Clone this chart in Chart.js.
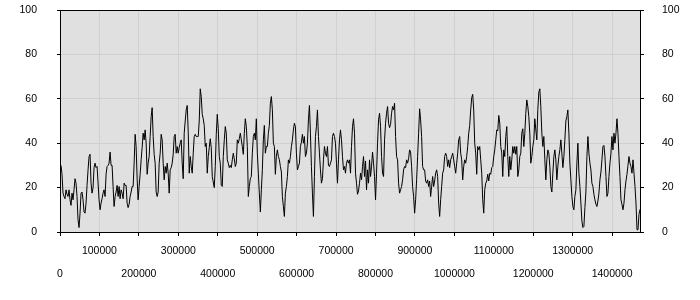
<!DOCTYPE html>
<html>
<head>
<meta charset="utf-8">
<script src="https://cdn.jsdelivr.net/npm/chart.js@4/dist/chart.umd.min.js"></script>
<style>
  html, body { margin: 0; padding: 0; background: #ffffff; }
  #wrap { width: 700px; height: 300px; }
</style>
</head>
<body>
<div id="wrap"><canvas id="seriesChart"></canvas></div>
<script>
// sample spacing along x (one reading per ~2540 units)
const X_STEP = 2540;
const X_MAX = 1473200;
const X_TICKS = [0, 100000, 200000, 300000, 400000, 500000, 600000, 700000,
  800000, 900000, 1000000, 1100000, 1200000, 1300000, 1400000];
const Y_TICKS = [0, 20, 40, 60, 80, 100];

// values, one per sample
const values = [
  30, 30, 26, 17.5, 16, 15, 19, 17, 16, 19,
  14.5, 12, 17.5, 14.5, 19, 24, 22, 16, 5.5, 2,
  8.5, 17.5, 18, 14.5, 9, 8.5, 13, 21, 28, 34,
  35, 22, 17.5, 20, 29, 31, 29, 29.5, 22, 14.5,
  10, 13, 15, 17.5, 19, 16, 26, 29.5, 30, 31,
  36, 30, 30, 20.5, 11.5, 16, 18, 21, 16, 20.5,
  15, 19, 17.5, 15, 22, 21, 21, 13, 11, 12.5,
  16, 18, 20.5, 20.5, 31, 44, 38.5, 24, 14.5, 20.5,
  26, 32.5, 38, 44.5, 41.5, 46, 40, 26, 31, 34,
  43, 52, 56, 43, 35, 31, 18, 16, 18, 31,
  35.5, 44, 41.5, 31, 23.5, 29.5, 26.5, 31, 26.5, 17.5,
  28, 29, 31, 35, 43, 44, 35.5, 38.5, 35.5, 38,
  40, 41.5, 31, 24, 44.5, 50, 55, 57, 45, 26.5,
  34, 29.5, 26.5, 35.5, 43, 44, 43, 43, 43, 50,
  64.5, 61, 53, 51, 48, 38.5, 40, 26.5, 34, 38,
  42, 38, 25, 22.5, 20, 29.5, 44, 53, 46.5, 34,
  31, 21, 20.5, 34, 41.5, 47.5, 44.5, 32.5, 31, 29,
  30, 29, 32.5, 35.5, 33, 29.5, 31, 41.5, 40, 42,
  44.5, 41.5, 38.5, 35, 44.5, 51, 47.5, 38.5, 16, 20.5,
  24, 25, 35.5, 43, 44.5, 41.5, 51, 35.5, 26.5, 17.5,
  9, 19, 28, 41.5, 48, 35.5, 38.5, 38.5, 44.5, 48,
  58, 61, 55, 40, 38.5, 26, 34, 37, 34, 32.5,
  29.5, 27, 16, 11.5, 7, 17.5, 20.5, 25, 32.5, 31,
  34, 38.5, 41.5, 46, 49, 47.5, 35.5, 28, 29.5, 31,
  38.5, 40.5, 44, 40, 43, 34, 35.5, 40, 50.5, 57,
  44.5, 29.5, 17.5, 7, 25, 43, 47.5, 55, 43, 35.5,
  28, 22, 24, 32.5, 38.5, 35.5, 34, 38.5, 30, 29.5,
  31, 32.5, 43, 44.5, 43, 40, 31, 22, 32.5, 41.5,
  46, 41.5, 34, 28, 29.5, 26.5, 31, 32.5, 31, 32.5,
  26.5, 38.5, 47.5, 51, 44.5, 26.5, 22, 17, 18.5, 22,
  26.5, 23.5, 29.5, 34, 25, 32, 19, 28, 22, 32.5,
  25, 29.5, 36, 31, 25, 14.5, 26.5, 40, 50.5, 53.5,
  47.5, 34, 26.5, 25, 41.5, 49, 53.5, 56.5, 49, 47,
  48.5, 53.5, 56.5, 55, 58, 43, 34, 32.5, 22, 17.5,
  19, 20.5, 23.5, 28, 29.5, 29, 32.5, 31, 33, 37,
  36, 29.5, 20.5, 16, 8.5, 14.5, 23.5, 34, 44.5, 55.5,
  50.5, 43, 29.5, 28, 28, 23, 22, 23.5, 20.5, 23,
  16, 20.5, 25, 20.5, 23, 26.5, 28, 25, 13, 7,
  14.5, 20.5, 26.5, 28, 34, 35.5, 34, 29.5, 32.5, 29,
  32.5, 34, 35.5, 32.5, 29.5, 26.5, 31, 35.5, 41.5, 43,
  35.5, 32.5, 23.5, 29.5, 32.5, 31, 34, 38.5, 44.5, 48,
  55, 60.5, 62, 55, 40, 35.5, 26, 38.5, 37, 38.5,
  32.5, 26.5, 14.5, 8.5, 19, 22, 23, 26, 23, 26.5,
  26, 29, 29.5, 34, 37, 41.5, 46, 45.5, 52.5, 49,
  38.5, 35.5, 25, 37, 34, 43, 47.5, 34, 25, 34,
  28, 32.5, 38.5, 35.5, 38.5, 35, 38.5, 25, 28, 34,
  35.5, 44.5, 46.5, 38.5, 44.5, 53.5, 59.5, 56.5, 52, 44.5,
  31, 34, 38.5, 41.5, 51, 46, 41.5, 55, 63, 64.5,
  56.5, 44.5, 38.5, 43, 32.5, 23.5, 32.5, 37, 35.5, 29.5,
  20.5, 18, 26.5, 34, 37, 32.5, 23.5, 29.5, 34, 37,
  41.5, 35.5, 29, 34, 41.5, 50, 52, 55, 44.5, 31,
  23.5, 16, 11.5, 10, 16, 19, 31, 40, 26.5, 20.5,
  13, 5, 2, 2.5, 11, 18, 34, 43, 35.5, 31,
  28, 22, 20.5, 17, 14.5, 12.5, 11.5, 14, 17.5, 23.5,
  27, 32.5, 38.5, 39, 34, 25, 16, 17.5, 25, 31,
  35.5, 43, 37, 44.5, 40, 44.5, 51, 44.5, 34, 25,
  14.5, 12.5, 10, 13, 19, 23, 26, 30, 34, 31,
  29.5, 26.5, 32.5, 26.5, 20.5, 13, 1, 1, 8, 10,
  11
];

const points = values.map((v, i) => ({ x: i * X_STEP, y: v }));

const FONT = "'Liberation Sans', sans-serif";
const TEXT = "#000000";
const GRID = "#d0d0d0";

// grey plot background + black frame
const plotFrame = {
  id: "plotFrame",
  beforeDraw(chart) {
    const { ctx, chartArea: a } = chart;
    ctx.save();
    ctx.fillStyle = "#e0e0e0";
    ctx.fillRect(a.left, a.top, a.right - a.left, a.bottom - a.top);
    ctx.restore();
  },
  afterDraw(chart) {
    const { ctx, chartArea: a } = chart;
    ctx.save();
    ctx.strokeStyle = "#000000";
    ctx.lineWidth = 1;
    ctx.strokeRect(Math.round(a.left) + 0.5, Math.round(a.top) + 0.5,
      Math.round(a.right - a.left) - 1, Math.round(a.bottom - a.top));
    ctx.restore();
  },
};

// staggered x labels: odd hundreds on the first row, even on the second
function xLabel(val) {
  const n = Math.round(val / 100000);
  return n % 2 === 1 ? [String(val), ""] : ["", String(val)];
}

// Chart.js doubles tick padding when sizing; pin the axis sizes instead
function fixSize(size, horizontal) {
  return (axis) => {
    if (horizontal) {
      axis.height = size;
      axis.paddingLeft = 0;
      axis.paddingRight = 0;
    } else {
      axis.width = size;
      axis.paddingTop = 0;
      axis.paddingBottom = 0;
    }
  };
}

new Chart(document.getElementById("seriesChart"), {
  type: "line",
  data: {
    datasets: [
      {
        data: points,
        borderColor: "#000000",
        borderWidth: 1,
        pointRadius: 0,
        tension: 0,
        fill: false,
        yAxisID: "y",
      },
    ],
  },
  options: {
    responsive: true,
    maintainAspectRatio: false,
    animation: false,
    normalized: true,
    layout: { padding: { left: 19, right: 19, top: 10, bottom: 16 } },
    plugins: {
      legend: { display: false },
      tooltip: { enabled: false },
    },
    scales: {
      x: {
        type: "linear",
        min: 0,
        max: X_MAX,
        afterBuildTicks: (axis) => { axis.ticks = X_TICKS.map((v) => ({ value: v })); },
        afterFit: fixSize(52, true),
        grid: { color: GRID, tickColor: "#000000", tickLength: 4 },
        border: { display: false },
        ticks: {
          autoSkip: false,
          maxRotation: 0,
          padding: 4,
          color: TEXT,
          font: { family: FONT, size: 10.5, lineHeight: "23px" },
          callback: xLabel,
        },
      },
      y: {
        position: "left",
        min: 0,
        max: 100,
        afterBuildTicks: (axis) => { axis.ticks = Y_TICKS.map((v) => ({ value: v })); },
        afterFit: fixSize(41, false),
        grid: { color: GRID, tickColor: "#000000", tickLength: 3 },
        border: { display: false },
        ticks: { padding: 20, color: TEXT, font: { family: FONT, size: 10.5 } },
      },
      y2: {
        position: "right",
        min: 0,
        max: 100,
        afterBuildTicks: (axis) => { axis.ticks = Y_TICKS.map((v) => ({ value: v })); },
        afterFit: fixSize(40, false),
        grid: { drawOnChartArea: false, tickColor: "#000000", tickLength: 3 },
        border: { display: false },
        ticks: { padding: 18, color: TEXT, font: { family: FONT, size: 10.5 } },
      },
    },
  },
  plugins: [plotFrame],
});
</script>
</body>
</html>
